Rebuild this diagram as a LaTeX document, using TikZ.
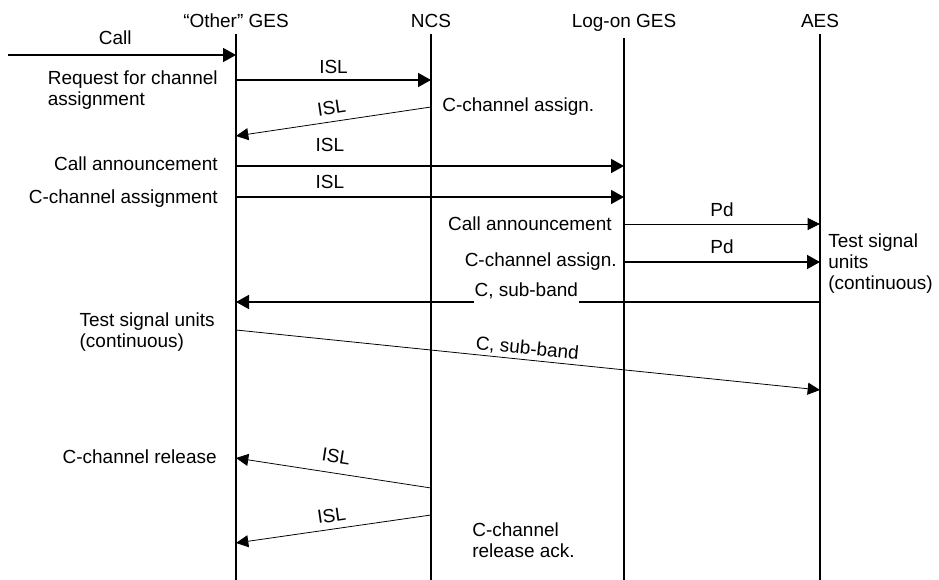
\documentclass[tikz,border=0pt]{standalone}
\usepackage{fontspec}
\setmainfont{Liberation Sans}
\usetikzlibrary{arrows.meta}

\begin{document}
\begin{tikzpicture}[x=0.02cm,y=-0.02cm,font=\fontsize{10.8}{12.2}\selectfont,
  msgthick/.style={line width=0.8pt,-{Triangle[length=7.4pt,width=8pt]}},
  msgthin/.style={line width=0.45pt,-{Triangle[length=7pt,width=6.8pt]}},
  lbl/.style={inner sep=0pt,align=left}]
\useasboundingbox (0,0) rectangle (939,580);

% Entities:
\node [anchor=base] (hdr_other) at (236,28) {“Other” GES};
\node [anchor=base] (hdr_ncs) at (431,28) {NCS};
\node [anchor=base] (hdr_logon) at (624,28) {Log-on GES};
\node [anchor=base] (hdr_aes) at (820,28) {AES};

\coordinate (bot_other) at (236,580);
\coordinate (bot_ncs) at (431,580);
\coordinate (bot_logon) at (624,580);
\coordinate (bot_aes) at (820,580);

% Lifelines:
\begin{scope}[line width=0.8pt]
\draw (hdr_other) -- (bot_other);
\draw (hdr_ncs) -- (bot_ncs);
\draw (hdr_logon) -- (bot_logon);
\draw (hdr_aes) -- (bot_aes);
\end{scope}

% Start and end points
\coordinate (start_call) at (8,55);
\coordinate (end_call) at (236,55);
\coordinate (start_req) at (236,80);
\coordinate (end_req) at (431,80);
\coordinate (start_assign) at (431,107);
\coordinate (end_assign) at (236,136);
\coordinate (start_ann) at (236,166);
\coordinate (end_ann) at (624,166);
\coordinate (start_chan) at (236,197);
\coordinate (end_chan) at (624,197);
\coordinate (start_pdann) at (624,224);
\coordinate (end_pdann) at (820,224);
\coordinate (start_pdchan) at (624,262);
\coordinate (end_pdchan) at (820,262);
\coordinate (start_sub) at (820,302);
\coordinate (end_sub) at (236,302);
\coordinate (start_test) at (236,330);
\coordinate (end_test) at (820,390);
\coordinate (start_rel) at (431,488);
\coordinate (end_rel) at (236,458);
\coordinate (start_ack) at (431,515);
\coordinate (end_ack) at (236,543);

% Messages
\draw [msgthick] (start_call) -- (end_call) node [pos=0.47,above=2.3pt] (txt_call) {Call};
\draw [msgthick] (start_req) -- (end_req) node [midway,above] (txt_req) {ISL};
\draw [msgthin] (start_assign) -- (end_assign) node [midway,sloped,above=0.5pt] (txt_assign) {ISL};
\draw [msgthick] (start_ann) -- (end_ann) node [pos=0.242,above=4.5pt] (txt_ann) {ISL};
\draw [msgthick] (start_chan) -- (end_chan) node [pos=0.242,above=1pt] (txt_chan) {ISL};
\draw [msgthin] (start_pdann) -- (end_pdann) node [midway,above=0.5pt] (txt_pdann) {Pd};
\draw [msgthick] (start_pdchan) -- (end_pdchan) node [midway,above=1pt] (txt_pdchan) {Pd};
\draw [msgthick] (start_sub) -- (end_sub) node [pos=0.503,yshift=6.5pt,fill=white,inner xsep=0.5pt,inner ysep=5pt] (txt_sub) {C, sub-band};
\draw [msgthin] (start_test) -- (end_test) node [pos=0.497,sloped,above=-2pt] (txt_test) {C, sub-band};
\draw [msgthin] (start_rel) -- (end_rel) node [midway,sloped,above=2.3pt] (txt_rel) {ISL};
\draw [msgthin] (start_ack) -- (end_ack) node [midway,sloped,above=0.5pt] (txt_ack) {ISL};

% Side texts
\node [lbl,anchor=north east] (lbl_req) at (218,70) {Request for channel\\assignment};
\node [lbl,anchor=base west] (lbl_assign) at (442,112) {C-channel assign.};
\node [lbl,anchor=base east] (lbl_ann) at (218,171) {Call announcement};
\node [lbl,anchor=base east] (lbl_chan) at (218,204) {C-channel assignment};
\node [lbl,anchor=base east] (lbl_pdann) at (612,231) {Call announcement};
\node [lbl,anchor=base east] (lbl_pdchan) at (617,267) {C-channel assign.};
\node [lbl,anchor=north west] (lbl_aes) at (828,233) {Test signal\\units\\(continuous)};
\node [lbl,anchor=north east] (lbl_test) at (215,312) {Test signal units\\(continuous)};
\node [lbl,anchor=base east] (lbl_rel) at (217,463) {C-channel release};
\node [lbl,anchor=north west] (lbl_ack) at (472,522) {C-channel\\release ack.};
\end{tikzpicture}
\end{document}
